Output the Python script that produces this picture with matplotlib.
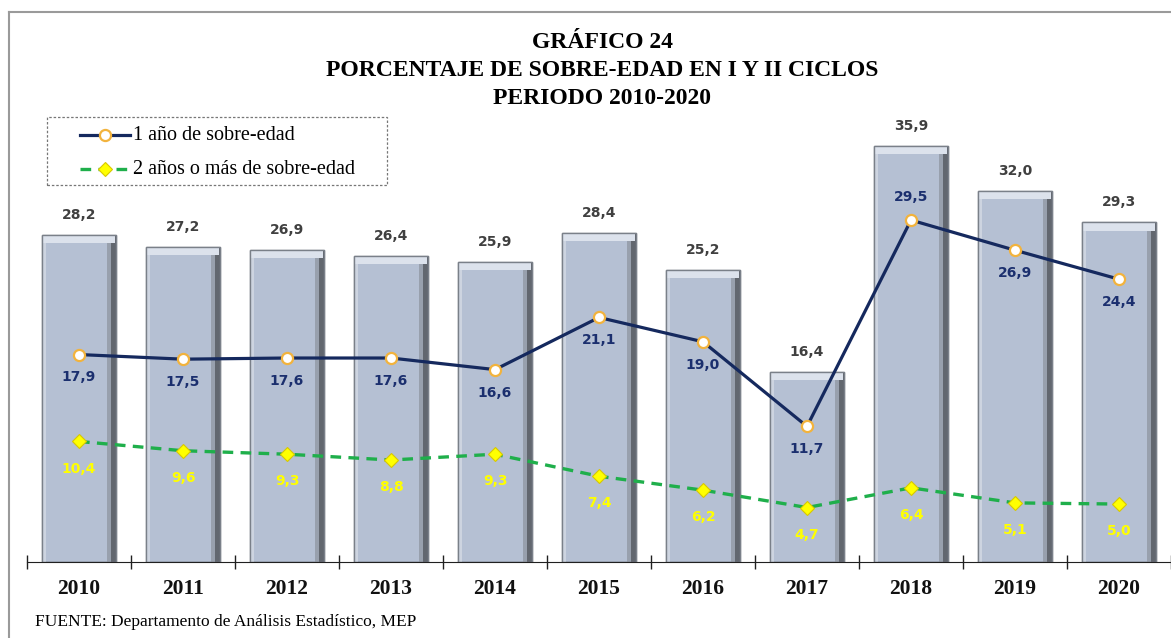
#!/usr/bin/env python3
"""Gráfico 24: porcentaje de sobre-edad en I y II ciclos, 2010-2020."""

import numpy as np
import matplotlib.pyplot as plt
from matplotlib.lines import Line2D
from matplotlib.patches import Rectangle

years = ["2010", "2011", "2012", "2013", "2014", "2015", "2016", "2017", "2018", "2019", "2020"]
total = [28.2, 27.2, 26.9, 26.4, 25.9, 28.4, 25.2, 16.4, 35.9, 32.0, 29.3]
one_year = [17.9, 17.5, 17.6, 17.6, 16.6, 21.1, 19.0, 11.7, 29.5, 26.9, 24.4]
two_plus = [10.4, 9.6, 9.3, 8.8, 9.3, 7.4, 6.2, 4.7, 6.4, 5.1, 5.0]

label_one = "1 año de sobre-edad"
label_two = "2 años o más de sobre-edad"
title_lines = ["GRÁFICO 24", "PORCENTAJE DE SOBRE-EDAD EN I Y II CICLOS", "PERIODO 2010-2020"]
source = "FUENTE: Departamento de Análisis Estadístico, MEP"

NAVY = "#15295E"
GREEN = "#1FAF4B"
GOLD = "#F2B33D"
YELLOW = "#FFFF00"
SERIF = ["Liberation Serif", "DejaVu Serif"]
W, H = 1171, 638


def fmt(v):
    return f"{v:.1f}".replace(".", ",")


def fx(px):
    return px / W


def fy(py):
    return 1 - py / H


fig = plt.figure(figsize=(W / 100, H / 100), dpi=100)
ax = fig.add_axes([fx(27), fy(562), fx(W - 27), (562 - 130) / H])
ax.set_xlim(-0.5, len(years) - 0.5)
ax.set_ylim(0, 432 / 11.59)

x = np.arange(len(years))
bw = 0.72
tot = np.array(total)

# bars with a rough bevel look
ax.bar(x, tot, width=bw, color="#B5C0D3", edgecolor="#7D838C", linewidth=1, zorder=1)
ax.bar(x + bw / 2 - 0.035, tot, width=0.07, color="#62676F", linewidth=0, zorder=1.1)
ax.bar(x + bw / 2 - 0.075, tot, width=0.04, color="#98A0AD", linewidth=0, zorder=1.1)
ax.bar(x - bw / 2 + 0.02, tot, width=0.04, color="#CDD4E0", linewidth=0, zorder=1.1)
ax.bar(x, np.full_like(tot, 0.7), bottom=tot - 0.7, width=bw - 0.02,
       color="#DCE2EC", linewidth=0, zorder=1.2)
ax.bar(x, tot, width=bw, fill=False, edgecolor="#7A8089", linewidth=1, zorder=1.3)

ax.plot(x, one_year, color=NAVY, lw=2.3, zorder=3,
        marker="o", ms=8, mfc="white", mec=GOLD, mew=1.6)
ax.plot(x, two_plus, color=GREEN, lw=2.4, ls=(0, (3.2, 2.2)), zorder=3,
        marker="D", ms=7, mfc=YELLOW, mec="#D8C800", mew=0.8)

lab_kw = dict(textcoords="offset points", ha="center", va="center",
              fontsize=10, fontweight="bold", family="DejaVu Sans", zorder=4)
for i in range(len(years)):
    ax.annotate(fmt(total[i]), (x[i], total[i]), xytext=(0, 14.5), color="#404040", **lab_kw)
    dy = 16.5 if years[i] == "2018" else -16.5
    ax.annotate(fmt(one_year[i]), (x[i], one_year[i]), xytext=(0, dy), color="#1B2F6E", **lab_kw)
    ax.annotate(fmt(two_plus[i]), (x[i], two_plus[i]), xytext=(0, -19.5), color=YELLOW, **lab_kw)

for s in ["top", "right", "left"]:
    ax.spines[s].set_visible(False)
ax.spines["bottom"].set_color("#202020")
ax.set_yticks([])
ax.set_xticks(x)
ax.set_xticklabels(years, fontsize=15.5, fontweight="bold", family=SERIF, color="#111111")
ax.set_xticks(np.arange(-0.5, len(years) + 0.5, 1), minor=True)
ax.tick_params(axis="x", which="major", length=0, pad=12)
ax.tick_params(axis="x", which="minor", direction="inout", length=9.5, width=1, color="#202020")

# outer frame (left and top edges visible in the crop)
fig.add_artist(Line2D([fx(9), fx(9)], [0, fy(12)], color="#9A9A9A", lw=1.5))
fig.add_artist(Line2D([fx(9), 1], [fy(12), fy(12)], color="#9A9A9A", lw=1.5))

for ty, t in zip([42, 70, 98], title_lines):
    fig.text(fx(602), fy(ty), t, ha="center", va="center", fontsize=17,
             fontweight="bold", family=SERIF, color="black")

# legend drawn by hand
fig.add_artist(Rectangle((fx(47), fy(185)), fx(340), (185 - 117) / H, fill=False,
                         ec="#777777", lw=0.9, ls=(0, (2, 1.5))))
fig.add_artist(Line2D([fx(80), fx(130)], [fy(135), fy(135)], color=NAVY, lw=2.3))
fig.add_artist(Line2D([fx(105)], [fy(135)], marker="o", ms=8, mfc="white", mec=GOLD, mew=1.6))
fig.add_artist(Line2D([fx(80), fx(130)], [fy(169), fy(169)], color=GREEN, lw=2.4,
                      ls=(0, (3.2, 2.2))))
fig.add_artist(Line2D([fx(105)], [fy(169)], marker="D", ms=7, mfc=YELLOW, mec="#D8C800", mew=0.8))
fig.text(fx(133), fy(135), label_one, ha="left", va="center", fontsize=14.5, family=SERIF)
fig.text(fx(133), fy(169), label_two, ha="left", va="center", fontsize=14.5, family=SERIF)

fig.text(fx(35), fy(622), source, ha="left", va="center", fontsize=12.5, family=SERIF)

fig.savefig("out.png", dpi=100)
